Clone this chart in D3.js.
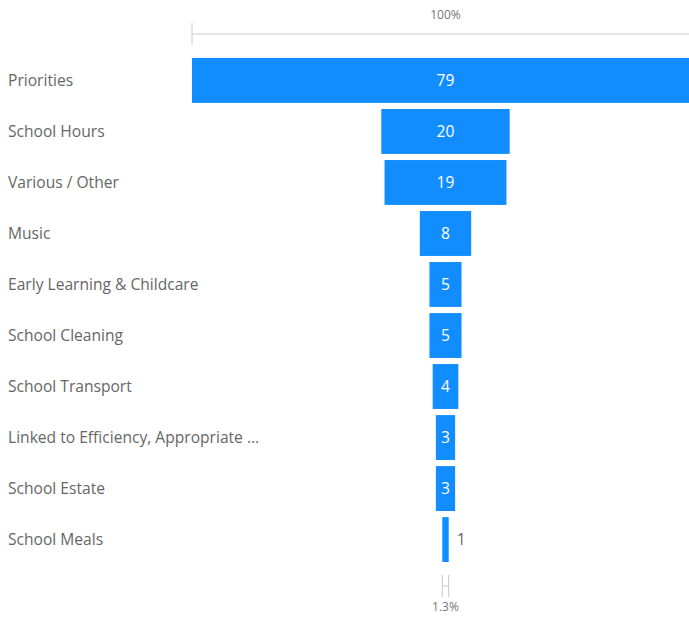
<!DOCTYPE html>
<html>
<head>
<meta charset="utf-8">
<script src="https://cdn.jsdelivr.net/npm/d3@7"></script>
<style>
  body { margin: 0; background: #fff; overflow: hidden; }
  text { font-family: "Segoe UI", "Open Sans", sans-serif; }
</style>
</head>
<body>
<div id="chart"></div>
<script>
const categories = ["Priorities", "School Hours", "Various / Other", "Music", "Early Learning & Childcare",
  "School Cleaning", "School Transport", "Linked to Efficiency, Appropriate ...", "School Estate", "School Meals"];
const values = [79, 20, 19, 8, 5, 5, 4, 3, 3, 1];
const topLabel = "100%";
const bottomLabel = "1.3%";

const width = 689, height = 619;
const cx = 445.5;
const fullW = 507;

const svg = d3.select("#chart").append("svg")
  .attr("width", width)
  .attr("height", height);

const x = d3.scaleLinear().domain([0, d3.max(values)]).range([0, fullW]);
const y = d3.scaleBand().domain(categories).range([58, 562]).paddingInner(0.12).paddingOuter(0);

// top reference line (100%)
const topLeft = cx - x(values[0]) / 2;
svg.append("line").attr("x1", topLeft).attr("x2", cx + x(values[0]) / 2)
  .attr("y1", 34).attr("y2", 34).attr("stroke", "#c8c8c8");
svg.append("line").attr("x1", topLeft).attr("x2", topLeft)
  .attr("y1", 23).attr("y2", 45).attr("stroke", "#c8c8c8");
svg.append("text").attr("x", cx).attr("y", 19).attr("text-anchor", "middle")
  .attr("font-size", 12).attr("fill", "#777").text(topLabel);

// bottom reference (last stage)
const last = values[values.length - 1];
const bl = cx - x(last) / 2, br = cx + x(last) / 2;
svg.append("line").attr("x1", bl).attr("x2", br).attr("y1", 586).attr("y2", 586).attr("stroke", "#c8c8c8");
[bl, br].forEach(v => svg.append("line").attr("x1", v).attr("x2", v)
  .attr("y1", 575).attr("y2", 597).attr("stroke", "#c8c8c8"));
svg.append("text").attr("x", cx).attr("y", 611).attr("text-anchor", "middle")
  .attr("font-size", 12).attr("fill", "#777").text(bottomLabel);

const rows = svg.selectAll("g.row").data(categories).enter().append("g").attr("class", "row");

rows.append("rect")
  .attr("x", (d, i) => cx - x(values[i]) / 2)
  .attr("y", d => y(d))
  .attr("width", (d, i) => x(values[i]))
  .attr("height", y.bandwidth())
  .attr("fill", "#118dff");

rows.append("text")
  .attr("x", 8)
  .attr("y", d => y(d) + y.bandwidth() / 2)
  .attr("dy", "0.35em")
  .attr("font-size", 15.6)
  .attr("fill", "#666")
  .text(d => d);

const inside = i => x(values[i]) >= 12;
rows.append("text")
  .attr("x", (d, i) => inside(i) ? cx : cx + x(values[i]) / 2 + 8)
  .attr("y", d => y(d) + y.bandwidth() / 2)
  .attr("dy", "0.35em")
  .attr("text-anchor", (d, i) => inside(i) ? "middle" : "start")
  .attr("font-size", 15.6)
  .attr("fill", (d, i) => inside(i) ? "#fff" : "#666")
  .text((d, i) => values[i]);
</script>
</body>
</html>
